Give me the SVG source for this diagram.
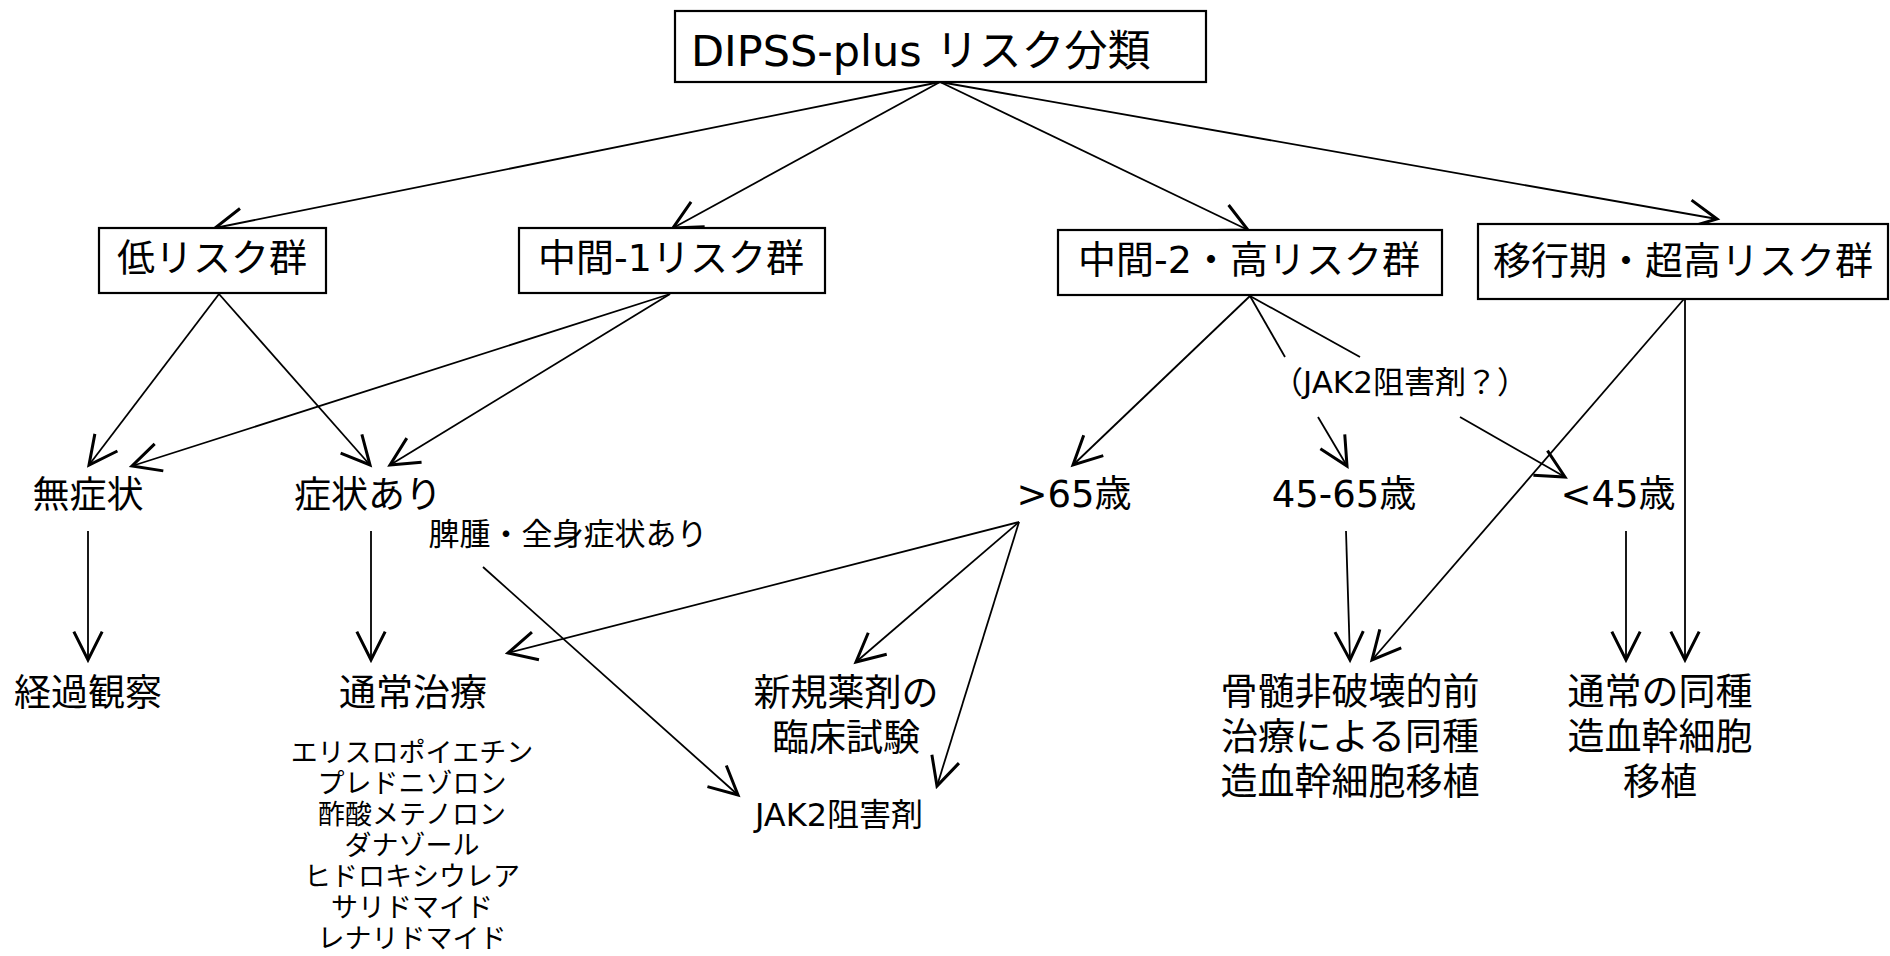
<svg xmlns="http://www.w3.org/2000/svg" width="1890" height="956" viewBox="0 0 1890 956">
<defs>
<marker id="arr" markerUnits="userSpaceOnUse" markerWidth="40" markerHeight="40" viewBox="-20 -12 24 24" refX="0" refY="0" orient="auto" overflow="visible">
<path d="M-17,-8.5 L0,0 L-17,8.5" fill="none" stroke="#000" stroke-width="1.8"/>
</marker>
<style>
text{font-family:"DejaVu Sans","Noto Sans CJK JP",sans-serif;fill:#000;}
.t{font-size:43px;}
.b{font-size:38px;text-anchor:middle;}
.m{font-size:37px;text-anchor:middle;}
.s{font-size:31px;text-anchor:middle;}
.l{font-size:27px;text-anchor:middle;}
.box{fill:#fff;stroke:#000;stroke-width:2.2;}
.c line{stroke:#000;stroke-width:1.8;fill:none;}
.c .a{marker-end:url(#arr);}
</style>
</defs>
<rect width="1890" height="956" fill="#fff"/>
<g class="c" id="connectors">
<line class="a" x1="940" y1="82" x2="215" y2="228"/>
<line class="a" x1="940" y1="82" x2="673" y2="228"/>
<line class="a" x1="940" y1="82" x2="1248" y2="230"/>
<line class="a" x1="940" y1="82" x2="1717" y2="219"/>
<line class="a" x1="219" y1="294" x2="89" y2="465"/>
<line class="a" x1="219" y1="294" x2="370" y2="465"/>
<line class="a" x1="670" y1="294" x2="132" y2="466"/>
<line class="a" x1="670" y1="294" x2="390" y2="465"/>
<line class="a" x1="88" y1="531" x2="88" y2="660"/>
<line class="a" x1="371" y1="531" x2="371" y2="660"/>
<line class="a" x1="483" y1="567" x2="738" y2="795"/>
<line class="a" x1="1019" y1="522" x2="508" y2="653"/>
<line class="a" x1="1019" y1="522" x2="856" y2="662"/>
<line class="a" x1="1019" y1="522" x2="937" y2="786"/>
<line class="a" x1="1250" y1="296" x2="1073" y2="465"/>
<line x1="1250" y1="296" x2="1285" y2="357"/>
<line x1="1250" y1="296" x2="1360" y2="357"/>
<line class="a" x1="1318" y1="417" x2="1347" y2="466"/>
<line class="a" x1="1460" y1="417" x2="1565" y2="477"/>
<line class="a" x1="1684" y1="299" x2="1372" y2="660"/>
<line class="a" x1="1685" y1="299" x2="1685" y2="660"/>
<line class="a" x1="1346" y1="531" x2="1350" y2="660"/>
<line class="a" x1="1626" y1="531" x2="1626" y2="660"/>
</g>
<g id="root">
<rect class="box" x="675" y="11" width="531" height="71"/>
<text class="t" x="691" y="66">DIPSS-plus リスク分類</text>
</g>
<g id="low">
<rect class="box" x="99" y="228" width="227" height="65"/>
<text class="b" x="212" y="271">低リスク群</text>
</g>
<g id="int1">
<rect class="box" x="519" y="228" width="306" height="65"/>
<text class="b" x="671" y="271">中間-1リスク群</text>
</g>
<g id="int2">
<rect class="box" x="1058" y="230" width="384" height="65"/>
<text class="b" x="1249" y="273">中間-2・高リスク群</text>
</g>
<g id="trans">
<rect class="box" x="1478" y="224" width="410" height="75"/>
<text class="b" x="1683" y="274">移行期・超高リスク群</text>
</g>
<g id="asym"><text class="m" x="88" y="508">無症状</text></g>
<g id="sym"><text class="m" x="368" y="508">症状あり</text></g>
<g id="spleen"><text class="s" x="568" y="545">脾腫・全身症状あり</text></g>
<g id="jakq"><text class="s" x="1400" y="393">（JAK2阻害剤？）</text></g>
<g id="over65"><text class="m" x="1074" y="507">&gt;65歳</text></g>
<g id="age45_65"><text class="m" x="1344" y="507">45-65歳</text></g>
<g id="under45"><text class="m" x="1618" y="507">&lt;45歳</text></g>
<g id="watch"><text class="m" x="88" y="706">経過観察</text></g>
<g id="conv">
<text class="m" x="413" y="706">通常治療</text>
<text class="l" x="412" y="762">エリスロポイエチン</text>
<text class="l" x="412" y="793">プレドニゾロン</text>
<text class="l" x="412" y="824">酢酸メテノロン</text>
<text class="l" x="412" y="855">ダナゾール</text>
<text class="l" x="412" y="886">ヒドロキシウレア</text>
<text class="l" x="412" y="917">サリドマイド</text>
<text class="l" x="412" y="948">レナリドマイド</text>
</g>
<g id="trial">
<text class="m" x="846" y="706">新規薬剤の</text>
<text class="m" x="846" y="751">臨床試験</text>
</g>
<g id="jak2"><text class="s" x="839" y="826" style="font-size:32px">JAK2阻害剤</text></g>
<g id="ric">
<text class="m" x="1350" y="705">骨髄非破壊的前</text>
<text class="m" x="1350" y="750">治療による同種</text>
<text class="m" x="1350" y="795">造血幹細胞移植</text>
</g>
<g id="allo">
<text class="m" x="1660" y="705">通常の同種</text>
<text class="m" x="1660" y="750">造血幹細胞</text>
<text class="m" x="1660" y="795">移植</text>
</g>
</svg>
